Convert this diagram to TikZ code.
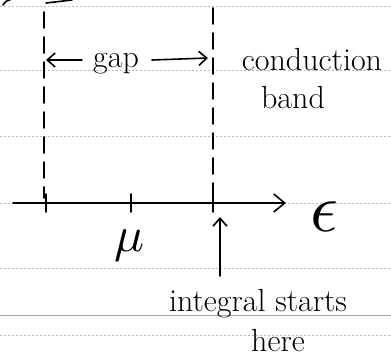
\documentclass[tikz,border=0pt]{standalone}
\usepackage{fontspec}
\usepackage{graphicx}
\usetikzlibrary{arrows.meta}
\begin{document}
\begin{tikzpicture}[x=1pt,y=-1pt,
  rule/.style={gray!55, line width=0.6pt, dash pattern=on 1.5pt off 2.5pt},
  ink/.style={black, line width=1.6pt, line cap=round, line join=round},
  dashv/.style={ink, dash pattern=on 16pt off 9pt},
  hand/.style={font=\fontsize{32}{36}\selectfont, inner sep=0pt},
  openarrow/.style={-{Straight Barb[length=8pt,width=14pt,line width=1.6pt]}}]
\useasboundingbox (0,0) rectangle (391,359);
\fill[white] (0,0) rectangle (391,359);
% notebook rules
\foreach \yy in {6,70,136,203,268,335} \draw[rule] (0,\yy) -- (391,\yy);
\draw[gray!70, line width=1pt] (0,315) -- (391,315);
% partial strokes at top edge
\draw[ink] (3,5) .. controls (6,1) .. (10,0);
\draw[ink] (46,3) -- (72,0);
% dashed verticals
\coordinate (dlt) at (44,12);
\coordinate (dlb) at (44,198);
\coordinate (drt) at (213,8);
\coordinate (drb) at (213,198);
\draw[dashv] (dlt) -- (dlb);
\draw[dashv] (drt) -- (drb);
% gap arrows
\node[hand] (gap) at (116,64) {gap};
\coordinate (gl) at (46,60);
\coordinate (gr) at (208,58);
\draw[ink, openarrow] (82,60) -- (gl);
\draw[ink, openarrow] (152,60) -- (gr);
% conduction band
\node[hand] (cond) at (312,60) {conduction};
\node[hand] (band) at (293,98) {band};
% axis
\coordinate (a0) at (13,203);
\coordinate (a1) at (286,203);
\draw[ink, -{Straight Barb[length=11pt,width=18pt,line width=1.6pt]}] (a0) -- (a1);
\foreach \xx/\nm in {46/t1,131/t2,213/t3} {
  \coordinate (\nm) at (\xx,203);
  \draw[ink] ([yshift=-9pt]\nm) -- ([yshift=9pt]\nm);
}
\node[inner sep=0pt] (eps) at (324,217) {\resizebox{28pt}{!}{$\epsilon$}};
\node[inner sep=0pt] (mu) at (129,246) {\resizebox{30pt}{!}{$\mu$}};
% integral starts here
\node[hand] (integ) at (258,304) {integral starts};
\node[hand] (here) at (278,341) {here};
\coordinate (upb) at (220,276);
\coordinate (upt) at (220,217);
\draw[ink, openarrow] (upb) -- (upt);
\end{tikzpicture}
\end{document}
